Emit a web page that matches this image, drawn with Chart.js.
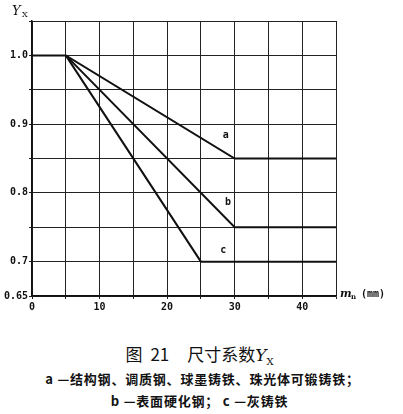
<!DOCTYPE html>
<html>
<head>
<meta charset="utf-8">
<script src="https://cdn.jsdelivr.net/npm/chart.js@4.4.1/dist/chart.umd.min.js"></script>
<style>
  html, body { margin: 0; padding: 0; background: #fff; }
  #wrap { position: relative; width: 403px; height: 320px; }
  .cap { font-family: "Noto Sans CJK SC", sans-serif; color: #111; text-align: center; width: 403px; position: absolute; left: 0; white-space: pre; }
  #t1 { top: 341px; font-size: 17px; left: -2px; }
  #t1 .num { margin-left: 8px; margin-right: 18px; }
  #t1 i { font-family: "DejaVu Serif", serif; font-style: italic; }
  #t1 sub { font-family: "DejaVu Serif", serif; font-size: 10px; }
  #t2 { top: 369px; font-size: 13px; letter-spacing: 0.8px; left: 1px; font-weight: bold; }
  #t3 { top: 391px; font-size: 13px; letter-spacing: 0.8px; left: -2px; font-weight: bold; }
</style>
</head>
<body>
<div id="wrap"><canvas id="c" width="403" height="320"></canvas></div>
<div class="cap" id="t1">图<span class="num">21</span>尺寸系数<i>Y</i><sub>X</sub></div>
<div class="cap" id="t2">a —结构钢、调质钢、球墨铸铁、珠光体可锻铸铁；</div>
<div class="cap" id="t3">b —表面硬化钢； c —灰铸铁</div>
<script>
// Size factor curves: module m_n (mm) vs Y_X
const curveA = [{x: 0, y: 1.0}, {x: 5, y: 1.0}, {x: 30, y: 0.85}, {x: 45, y: 0.85}];
const curveB = [{x: 5, y: 1.0}, {x: 30, y: 0.75}, {x: 45, y: 0.75}];
const curveC = [{x: 5, y: 1.0}, {x: 25, y: 0.70}, {x: 45, y: 0.70}];
const curveLabels = ['a', 'b', 'c'];
const labelPoints = [{x: 28.7, y: 0.883}, {x: 29.0, y: 0.786}, {x: 28.3, y: 0.717}];
const yTickLabels = {1.0: '1.0', 0.9: '0.9', 0.8: '0.8', 0.7: '0.7', 0.65: '0.65'};
const xTickLabels = {0: '0', 10: '10', 20: '20', 30: '30', 40: '40'};

const tickFont = {family: 'DejaVu Sans Mono', size: 10, weight: 'bold'};

const annotations = {
  id: 'annotations',
  afterDatasetsDraw(chart) {
    const ctx = chart.ctx;
    const xs = chart.scales.x, ys = chart.scales.y;
    ctx.save();
    ctx.fillStyle = '#111';
    ctx.textAlign = 'center';
    ctx.textBaseline = 'middle';
    ctx.font = 'bold 10px "DejaVu Sans Mono"';
    curveLabels.forEach((t, i) => {
      ctx.fillText(t, xs.getPixelForValue(labelPoints[i].x), ys.getPixelForValue(labelPoints[i].y));
    });
    // y-axis title Y_X
    ctx.textAlign = 'left';
    ctx.font = 'italic 13px "DejaVu Serif"';
    ctx.fillText('Y', 12, 12);
    ctx.font = '8px "DejaVu Serif"';
    ctx.fillText('X', 22, 15);
    // x-axis title m_n (mm)
    const bx = chart.chartArea.right + 4, by = chart.chartArea.bottom;
    ctx.font = 'italic bold 11px "DejaVu Serif"';
    ctx.fillText('m', bx, by - 2);
    ctx.font = 'bold 7px "DejaVu Serif"';
    ctx.fillText('n', bx + 11, by + 1);
    ctx.font = 'bold 10px "DejaVu Sans Mono"';
    ctx.fillText('(mm)', bx + 21, by - 2);
    ctx.restore();
  }
};

const lineStyle = {borderColor: '#111', borderWidth: 2, pointRadius: 0, fill: false, tension: 0};

new Chart(document.getElementById('c'), {
  type: 'line',
  data: {
    datasets: [
      Object.assign({data: curveA}, lineStyle),
      Object.assign({data: curveB}, lineStyle),
      Object.assign({data: curveC}, lineStyle)
    ]
  },
  options: {
    responsive: false,
    animation: false,
    layout: {padding: {top: 21, right: 67, left: 0, bottom: 0}},
    plugins: {legend: {display: false}, tooltip: {enabled: false}},
    scales: {
      x: {
        type: 'linear', min: 0, max: 45,
        border: {color: '#111', width: 1.5},
        grid: {color: '#222', lineWidth: 1, tickLength: 3, drawTicks: true},
        ticks: {
          stepSize: 5, color: '#111', font: tickFont, padding: 2, maxRotation: 0,
          callback: v => (xTickLabels[v] !== undefined ? xTickLabels[v] : '')
        },
        afterFit(s) { s.height = 24; }
      },
      y: {
        type: 'linear', min: 0.65, max: 1.05,
        border: {color: '#111', width: 1.5},
        grid: {color: '#222', lineWidth: 1, tickLength: 3, drawTicks: true},
        ticks: {
          stepSize: 0.05, color: '#111', font: tickFont, padding: 1,
          callback: v => {
            const k = Math.round(v * 100) / 100;
            return yTickLabels[k] !== undefined ? yTickLabels[k] : '';
          }
        },
        afterFit(s) { s.width = 32; }
      }
    }
  },
  plugins: [annotations]
});
</script>
</body>
</html>
